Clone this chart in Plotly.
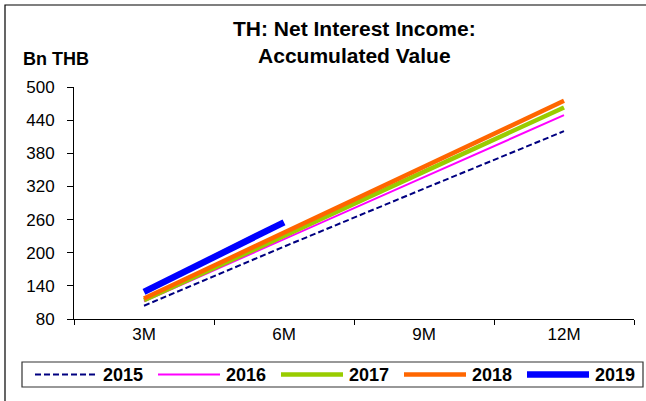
import plotly.graph_objects as go

# Accumulated net interest income by period (Bn THB)
periods = ["3M", "6M", "9M", "12M"]
years = ["2015", "2016", "2017", "2018", "2019"]
nii_2015 = [104, 211, 316, 420]
nii_2016 = [112, 225, 337, 449]
nii_2017 = [114, 231, 347, 463]
nii_2018 = [117, 237, 356, 475]
nii_2019 = [129, 255]
y_ticks = [80, 140, 200, 260, 320, 380, 440, 500]

series = [nii_2015, nii_2016, nii_2017, nii_2018, nii_2019]
styles = [
    dict(color="#000080", width=2, dash="6px,3px"),
    dict(color="#FF00FF", width=2, dash="solid"),
    dict(color="#99CC00", width=4.5, dash="solid"),
    dict(color="#FF6600", width=4.5, dash="solid"),
    dict(color="#0000FF", width=6.5, dash="solid"),
]

W, H = 646, 401
ML, MR, MT, MB = 74, 12, 87, 82
PW, PH = W - ML - MR, H - MT - MB


def fx(px):
    return (px - ML) / PW


def fy(py):
    return (H - MB - py) / PH


fig = go.Figure()
for name, vals, st in zip(years, series, styles):
    fig.add_trace(go.Scatter(
        x=periods[:len(vals)], y=vals, name=name, mode="lines",
        line=st, showlegend=False,
    ))

font = "Arial, Liberation Sans, sans-serif"

shapes = [
    # outer frame
    dict(type="rect", xref="paper", yref="paper",
         x0=fx(5), x1=fx(660), y0=fy(415), y1=fy(5),
         line=dict(color="#000000", width=1.2), fillcolor="rgba(0,0,0,0)"),
    # legend box
    dict(type="rect", xref="paper", yref="paper",
         x0=fx(22), x1=fx(643), y0=fy(387), y1=fy(362),
         line=dict(color="#333333", width=1.2), fillcolor="white"),
]
annotations = [
    dict(text="<b>TH: Net Interest Income:<br>Accumulated Value</b>",
         xref="paper", yref="paper", x=0.5, y=fy(15), xanchor="center",
         yanchor="top", showarrow=False,
         font=dict(family=font, size=21, color="black")),
    dict(text="<b>Bn THB</b>", xref="paper", yref="paper",
         x=fx(21), y=fy(59), xanchor="left", yanchor="middle",
         showarrow=False, font=dict(family=font, size=18, color="black")),
]

# legend entries drawn along the bottom
leg_y = fy(374.5)
for i, (name, st) in enumerate(zip(years, styles)):
    x0 = 35 + i * 123
    shapes.append(dict(type="line", xref="paper", yref="paper",
                       x0=fx(x0), x1=fx(x0 + 62), y0=leg_y, y1=leg_y,
                       line=st))
    annotations.append(dict(text=f"<b>{name}</b>", xref="paper", yref="paper",
                            x=fx(x0 + 66), y=leg_y, xanchor="left",
                            yanchor="middle", showarrow=False,
                            font=dict(family=font, size=18, color="black")))

fig.update_layout(
    width=W, height=H,
    margin=dict(l=ML, r=MR, t=MT, b=MB, pad=0),
    paper_bgcolor="white", plot_bgcolor="white",
    font=dict(family=font, size=17, color="black"),
    shapes=shapes, annotations=annotations,
    xaxis=dict(type="category", categoryorder="array", categoryarray=periods,
               range=[-0.5, 3.5], tickson="boundaries", ticks="outside",
               ticklen=5, tickcolor="black", showline=True,
               linecolor="black", linewidth=1, showgrid=False,
               zeroline=False, tickfont=dict(size=17)),
    yaxis=dict(range=[80, 500], tickvals=y_ticks, ticks="outside",
               ticklen=6, tickcolor="black", showline=True,
               linecolor="black", linewidth=1, showgrid=False,
               zeroline=False, ticklabelstandoff=9, tickfont=dict(size=17)),
)

fig.write_html("out.html")
